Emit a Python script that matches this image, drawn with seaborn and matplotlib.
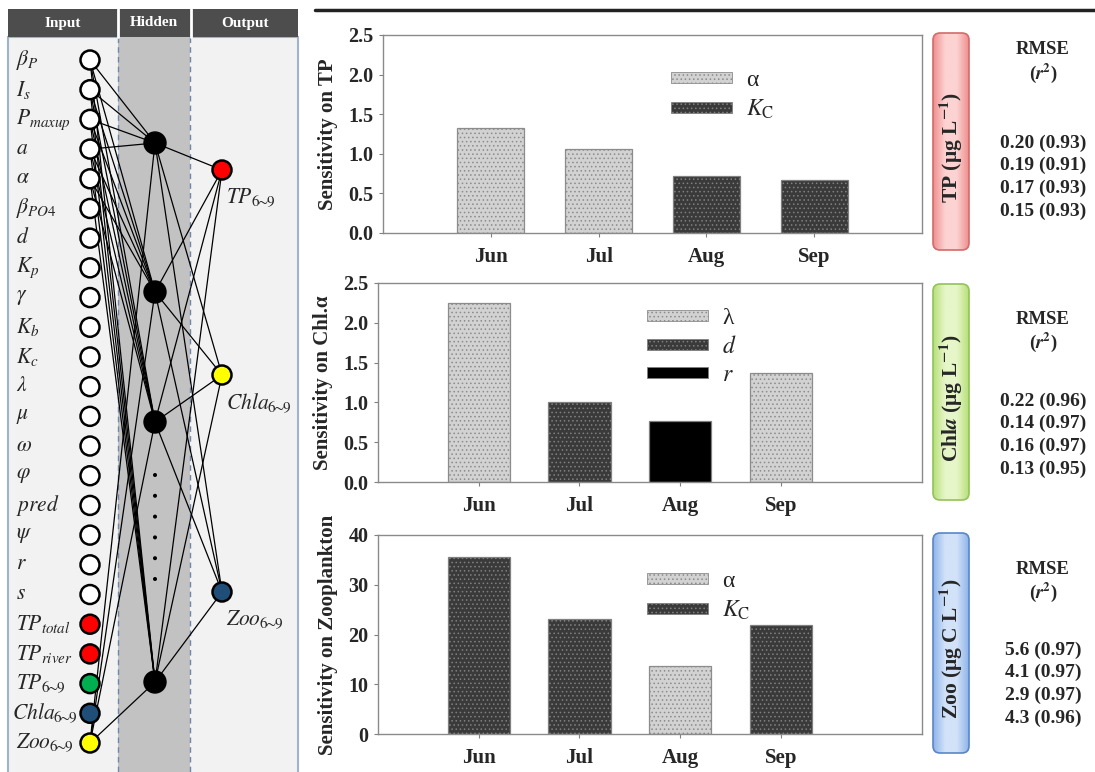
import numpy as np
import pandas as pd
import matplotlib
matplotlib.use("Agg")
import matplotlib.pyplot as plt
import matplotlib.colors as mcolors
from matplotlib.patches import Rectangle, Circle, FancyBboxPatch, Patch
import seaborn as sns

# ---- data ----
months = ["Jun", "Jul", "Aug", "Sep"]

tp_sens = [1.33, 1.06, 0.72, 0.67]
tp_param = ["α", "α", "Kc", "Kc"]
tp_legend = ["α", "Kc"]

chl_sens = [2.25, 1.00, 0.77, 1.37]
chl_param = ["λ", "d", "r", "λ"]
chl_legend = ["λ", "d", "r"]

zoo_sens = [35.6, 23.1, 13.7, 22.0]
zoo_param = ["Kc", "Kc", "α", "Kc"]
zoo_legend = ["α", "Kc"]

tp_rmse = ["0.20 (0.93)", "0.19 (0.91)", "0.17 (0.93)", "0.15 (0.93)"]
chl_rmse = ["0.22 (0.96)", "0.14 (0.97)", "0.16 (0.97)", "0.13 (0.95)"]
zoo_rmse = ["5.6 (0.97)", "4.1 (0.97)", "2.9 (0.97)", "4.3 (0.96)"]

sub69 = r"6\!\!\sim\!\!9"
input_labels = [r"$\beta_P$", r"$I_s$", r"$P_{maxup}$", r"$a$", r"$\alpha$", r"$\beta_{PO4}$",
                r"$d$", r"$K_p$", r"$\gamma$", r"$K_b$", r"$K_c$", r"$\lambda$", r"$\mu$",
                r"$\omega$", r"$\varphi$", r"$pred$", r"$\psi$", r"$r$", r"$s$",
                r"$TP_{total}$", r"$TP_{river}$", r"$TP_{" + sub69 + "}$",
                r"$Chla_{" + sub69 + "}$", r"$Zoo_{" + sub69 + "}$"]
input_colors = ["white"] * 19 + ["#ff0000", "#ff0000", "#00b050", "#1f4e79", "#ffff00"]
output_labels = [r"$TP_{" + sub69 + "}$", r"$Chla_{" + sub69 + "}$", r"$Zoo_{" + sub69 + "}$"]
output_colors = ["#ff0000", "#ffff00", "#1f4e79"]

# ---- style ----
sns.set_style("white")
plt.rcParams["font.family"] = ["Liberation Serif", "DejaVu Serif"]
plt.rcParams["mathtext.fontset"] = "stix"
plt.rcParams["hatch.linewidth"] = 0.6

styles = {
    "α": dict(fc="#d2d2d2", ec="#8c8c8c", hatch="...."),
    "λ": dict(fc="#d2d2d2", ec="#8c8c8c", hatch="...."),
    "Kc": dict(fc="#3a3a3a", ec="#808080", hatch="...."),
    "d": dict(fc="#3a3a3a", ec="#808080", hatch="...."),
    "r": dict(fc="#000000", ec="#808080", hatch=""),
}
legend_names = {"α": "α", "λ": "λ", "Kc": r"$K_{\mathrm{C}}$", "d": r"$d$", "r": r"$r$"}

fig = plt.figure(figsize=(10.95, 7.72), dpi=100)

# overlay in pixel coordinates for the network diagram and side labels
ov = fig.add_axes([0, 0, 1, 1], zorder=0)
ov.set_xlim(0, 1095)
ov.set_ylim(772, 0)
ov.axis("off")

# left panel
ov.add_patch(Rectangle((8, 37), 290, 740, fc="#f2f2f2", ec="#9fb3cc", lw=1.5, zorder=1))
ov.add_patch(Rectangle((118, 37), 72, 740, fc="#c2c2c2", ec="none", zorder=1))
for xv in (118, 190):
    ov.plot([xv, xv], [37, 772], color="#6f87a8", lw=1, ls=(0, (4, 3)), zorder=2)
ov.add_patch(Rectangle((8, 9), 290, 28, fc="#4d4d4d", ec="none", zorder=2))
for xv in (118, 191):
    ov.plot([xv, xv], [9, 37], color="white", lw=2, zorder=3)
for txt, xc in zip(["Input", "Hidden", "Output"], [63, 154, 245]):
    ov.text(xc, 23, txt, color="white", fontsize=11, fontweight="bold", ha="center", va="center", zorder=4)

in_x, hid_x, out_x = 90, 155, 222
in_y = np.linspace(60, 743, len(input_labels))
hid_y = [143, 292, 422, 682]
out_y = [170, 375, 592]

edges = [(i, h) for i in (0, 1, 2, 3) for h in range(4)] + [(23, h) for h in range(4)] + [(4, h) for h in (1, 2, 3)]
for i, h in edges:
    ov.plot([in_x, hid_x], [in_y[i], hid_y[h]], color="black", lw=0.9, zorder=3)
for h in range(4):
    for o in range(3):
        ov.plot([hid_x, out_x], [hid_y[h], out_y[o]], color="black", lw=0.9, zorder=3)

for lab, yv, col in zip(input_labels, in_y, input_colors):
    ov.add_patch(Circle((in_x, yv), 9.5, fc=col, ec="black", lw=1.8, zorder=5))
    x_lab = 12 if "Chla" in lab else 16
    ov.text(x_lab, yv, lab, fontsize=15.5, ha="left", va="center", zorder=4)
for yv in hid_y:
    ov.add_patch(Circle((hid_x, yv), 11, fc="black", ec="black", zorder=5))
for yv in np.linspace(475, 579, 6):
    ov.add_patch(Circle((hid_x, yv), 2, fc="black", ec="none", zorder=5))
for lab, yv, col in zip(output_labels, out_y, output_colors):
    ov.add_patch(Circle((out_x, yv), 9.5, fc=col, ec="black", lw=1.8, zorder=5))
    ov.text(out_x + 4, yv + 28, lab, fontsize=15.5, ha="left", va="center", zorder=5)

# top rule
ov.plot([315, 1095], [10, 10], color="#222222", lw=2.5, zorder=3)


def grad_box(x0, y0, w, h, c_edge, c_mid, ec, label):
    box = FancyBboxPatch((x0, y0), w, h, boxstyle="round,pad=0,rounding_size=7",
                         fc="none", ec=ec, lw=1.2, zorder=4)
    ov.add_patch(box)
    cmap = mcolors.LinearSegmentedColormap.from_list("g", [c_edge, c_mid, c_mid, c_edge])
    im = ov.imshow(np.linspace(0, 1, 60)[None, :], cmap=cmap, extent=(x0, x0 + w, y0 + h, y0),
                   aspect="auto", zorder=3)
    im.set_clip_path(box)
    ov.text(x0 + w / 2, y0 + h / 2 + 6, label, rotation=90, ha="center", va="center",
            fontsize=15.5, fontweight="bold", zorder=5)


grad_box(933, 33, 36, 217, "#ef8f8f", "#fcd2d2", "#d46a6a", r"TP (μg L$^{\mathbf{-1}}$)")
grad_box(933, 284, 36, 216, "#b7e07a", "#e6f6c8", "#94c25a", r"Chl$\mathbfit{a}$ (μg L$^{\mathbf{-1}}$)")
grad_box(933, 533, 36, 220, "#8fb4ea", "#d2e2f8", "#5a86c6", r"Zoo (μg C L$^{\mathbf{-1}}$)")

for rmse, y_head, y_vals in [(tp_rmse, 50, 143), (chl_rmse, 319, 401), (zoo_rmse, 569, 650)]:
    ov.text(1043, y_head, "RMSE", ha="center", va="center", fontsize=13.5, fontweight="bold")
    ov.text(1043, y_head + 23, r"($\mathbfit{r}^{\mathbf{2}}$)", ha="center", va="center", fontsize=13.5, fontweight="bold")
    for k, s in enumerate(rmse):
        ov.text(1043, y_vals + 22.7 * k, s, ha="center", va="center", fontsize=14, fontweight="bold")


def panel(rect, vals, params, leg_order, ylim, yticks, fmt, ylabel, xlim, leg_anchor):
    ax = fig.add_axes(rect, zorder=2)
    ax.set_facecolor("white")
    df = pd.DataFrame({"month": months, "value": vals, "param": params})
    sns.barplot(data=df, x="month", y="value", hue="param", hue_order=leg_order, order=months,
                dodge=False, width=0.62, palette={p: styles[p]["fc"] for p in leg_order},
                legend=False, ax=ax)
    for bar in ax.patches:
        if np.isnan(bar.get_height()) or bar.get_height() == 0:
            continue
        idx = int(round(bar.get_x() + bar.get_width() / 2))
        st = styles[params[idx]]
        bar.set_facecolor(st["fc"])
        bar.set_edgecolor(st["ec"])
        bar.set_hatch(st["hatch"])
        bar.set_linewidth(0.9)
    ax.set_xlim(*xlim)
    ax.set_ylim(*ylim)
    ax.set_yticks(yticks)
    ax.set_yticklabels([fmt.format(v) for v in yticks], fontsize=14.5, fontweight="bold")
    ax.set_xticks(range(len(months)))
    ax.set_xticklabels(months, fontsize=15, fontweight="bold")
    ax.tick_params(axis="x", length=3, pad=7, color="#808080", direction="out", bottom=True)
    ax.tick_params(axis="y", length=3, pad=4, color="#808080", direction="out", left=True)
    ax.set_xlabel("")
    ax.set_ylabel(ylabel, fontsize=15, fontweight="bold", labelpad=7)
    for sp in ax.spines.values():
        sp.set_color("#8a8a8a")
        sp.set_linewidth(1.0)
    handles = [Patch(facecolor=styles[p]["fc"], edgecolor=styles[p]["ec"], hatch=styles[p]["hatch"],
                     lw=0.6, label=legend_names[p]) for p in leg_order]
    ax.legend(handles=handles, loc="upper left", bbox_to_anchor=leg_anchor, frameon=False,
              handlelength=2.6, handleheight=0.35, labelspacing=0.3, handletextpad=0.6,
              borderpad=0, borderaxespad=0, prop={"family": "Liberation Serif", "size": 17})
    return ax


panel([383 / 1095, 1 - 233 / 772, 539 / 1095, 198 / 772], tp_sens, tp_param, tp_legend,
      (0, 2.5), [0, 0.5, 1.0, 1.5, 2.0, 2.5], "{:.1f}", "Sensitivity on TP", (-1, 4), (0.534, 0.823))
panel([378 / 1095, 1 - 482 / 772, 544 / 1095, 199 / 772], chl_sens, chl_param, chl_legend,
      (0, 2.5), [0, 0.5, 1.0, 1.5, 2.0, 2.5], "{:.1f}", "Sensitivity on Chl.α", (-1, 4.4), (0.494, 0.874))
panel([378 / 1095, 1 - 734 / 772, 544 / 1095, 199 / 772], zoo_sens, zoo_param, zoo_legend,
      (0, 40), [0, 10, 20, 30, 40], "{:.0f}", "Sensitivity on Zooplankton", (-1, 4.4), (0.494, 0.819))

fig.savefig("out.png", dpi=100)
